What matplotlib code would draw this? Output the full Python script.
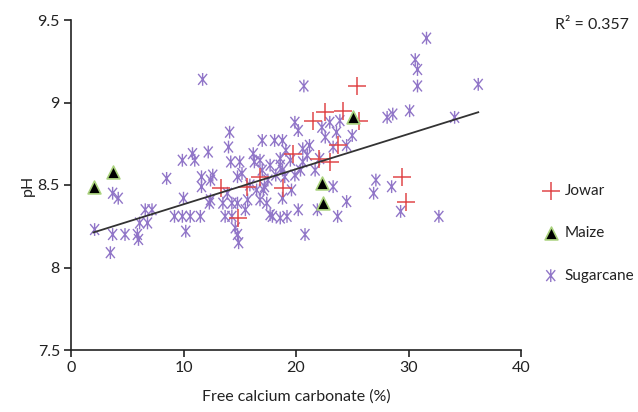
import matplotlib
matplotlib.use("Agg")
import matplotlib.pyplot as plt
import numpy as np
from matplotlib.path import Path

plt.rcParams['font.family'] = ['Lato', 'DejaVu Sans']

# ---- data ----
jowar_x = [13.3, 15.6, 14.8, 16.8, 18.8, 19.7, 21.5, 22.6, 24.2, 25.4, 25.6, 23.7, 22.0, 23.0, 29.4, 29.8]
jowar_y = [8.48, 8.49, 8.30, 8.55, 8.48, 8.69, 8.89, 8.94, 8.95, 9.10, 8.89, 8.74, 8.66, 8.64, 8.55, 8.40]

maize_x = [2.0, 3.7, 25.1, 22.3, 22.4]
maize_y = [8.49, 8.58, 8.91, 8.51, 8.39]

sugar_x = [2.1, 3.7, 4.2, 3.7, 4.8, 5.9, 6.0, 3.5, 6.1, 6.8, 6.6, 7.2, 8.5, 9.2, 9.9, 10.6,
           11.5, 10.2, 10.0, 11.6, 11.6, 12.4, 12.6, 9.9, 10.8, 11.0, 12.2, 14.1, 14.0, 14.2,
           15.0, 16.2, 16.3, 17.0, 11.7, 12.4, 13.9, 14.8, 15.2, 15.7, 16.5, 16.8, 14.8, 12.3,
           13.5, 14.3, 17.4, 15.5, 17.7, 13.7, 14.3, 14.6, 14.8, 14.9,
           20.7, 19.9, 20.2, 18.1, 18.8, 20.6, 21.0, 22.3, 23.0, 23.9, 22.6, 23.6, 25.0, 18.6,
           18.6, 18.8, 20.6, 20.4, 22.1, 23.3, 31.6, 30.6, 30.8, 30.8, 36.2, 28.1, 28.6, 30.1,
           34.1, 17.2, 19.0, 27.1, 28.5, 26.9, 23.3, 24.5, 23.7, 21.9, 20.2, 20.8, 29.3, 32.7,
           19.2, 18.6, 17.9, 18.8, 17.1, 24.5, 17.0, 17.7, 18.2, 19.5, 19.9, 19.6, 15.9, 17.5,
           21.2, 21.7, 16.8, 19.1]
sugar_y = [8.23, 8.45, 8.42, 8.20, 8.20, 8.20, 8.17, 8.09, 8.27, 8.27, 8.35, 8.35, 8.54, 8.31, 8.31, 8.31,
           8.31, 8.22, 8.42, 8.55, 8.49, 8.53, 8.56, 8.65, 8.69, 8.65, 8.70, 8.82, 8.73, 8.64,
           8.64, 8.69, 8.64, 8.77, 9.14, 8.41, 8.45, 8.55, 8.57, 8.41, 8.47, 8.41, 8.39, 8.39,
           8.39, 8.39, 8.39, 8.35, 8.32, 8.31, 8.31, 8.24, 8.20, 8.15,
           9.10, 8.88, 8.83, 8.77, 8.77, 8.72, 8.68, 8.85, 8.88, 8.89, 8.79, 8.82, 8.80, 8.66,
           8.62, 8.59, 8.64, 8.59, 8.66, 8.73, 9.39, 9.26, 9.20, 9.10, 9.11, 8.91, 8.93, 8.95,
           8.91, 8.49, 8.55, 8.53, 8.49, 8.45, 8.49, 8.40, 8.31, 8.35, 8.35, 8.20, 8.34, 8.31,
           8.31, 8.30, 8.31, 8.42, 8.47, 8.74, 8.59, 8.62, 8.56, 8.65, 8.56, 8.47, 8.50, 8.53,
           8.74, 8.59, 8.65, 8.71]

fit_intercept = 8.17
fit_slope = 0.0213
fit_xrange = [2.0, 36.2]
r2_text = "R\u00b2 = 0.357"

x_ticks = [0, 10, 20, 30, 40]
y_ticks = [7.5, 8, 8.5, 9, 9.5]
y_ticklabels = ["7.5", "8", "8.5", "9", "9.5"]

# ---- style ----
asterisk = Path([(0, -1), (0, 1), (-0.7, -0.85), (0.7, 0.85), (-0.7, 0.85), (0.7, -0.85)],
                [Path.MOVETO, Path.LINETO, Path.MOVETO, Path.LINETO, Path.MOVETO, Path.LINETO])

fig = plt.figure(figsize=(6.38, 4.12), dpi=100)
ax = fig.add_axes([71/638, 1-350/412, 450/638, 330/412])

ax.scatter(sugar_x, sugar_y, marker=asterisk, s=85, facecolors='none',
           edgecolors='#9176c8', linewidths=1.0, label='Sugarcane', zorder=2)
ax.scatter(jowar_x, jowar_y, marker='+', s=170, color='#e0484a',
           linewidths=1.1, label='Jowar', zorder=3)
ax.scatter(maize_x, maize_y, marker='^', s=85, facecolors='black',
           edgecolors='#a9d27c', linewidths=1.2, label='Maize', zorder=4)

fx = np.array(fit_xrange)
ax.plot(fx, fit_intercept + fit_slope * fx, color='#333333', lw=1.3, zorder=5)

ax.set_xlim(0, 40)
ax.set_ylim(7.5, 9.5)
ax.set_xticks(x_ticks)
ax.set_yticks(y_ticks)
ax.set_yticklabels(y_ticklabels)
ax.spines['top'].set_visible(False)
ax.spines['right'].set_visible(False)
for s in ['left', 'bottom']:
    ax.spines[s].set_linewidth(1.2)
    ax.spines[s].set_color('#222222')
ax.tick_params(direction='out', length=5, width=1.2, labelsize=11.5, colors='#222222', pad=3)
ax.set_xlabel('Free calcium carbonate (%)', fontsize=11.5, color='#222222', labelpad=10)
ax.set_ylabel('pH', fontsize=11.5, color='#222222', labelpad=2)

fig.text(629/638, 1-25/412, r2_text, ha='right', va='center', fontsize=11.5, color='#222222')

handles, labels = ax.get_legend_handles_labels()
order = [labels.index('Jowar'), labels.index('Maize'), labels.index('Sugarcane')]
fig.legend([handles[i] for i in order], [labels[i] for i in order],
           loc='upper left', bbox_to_anchor=(537/638, 1-178/412), frameon=False,
           fontsize=11, labelspacing=1.85, handletextpad=0.4, handlelength=1.0,
           borderaxespad=0, labelcolor='#222222')

fig.savefig('out.png', dpi=100)
